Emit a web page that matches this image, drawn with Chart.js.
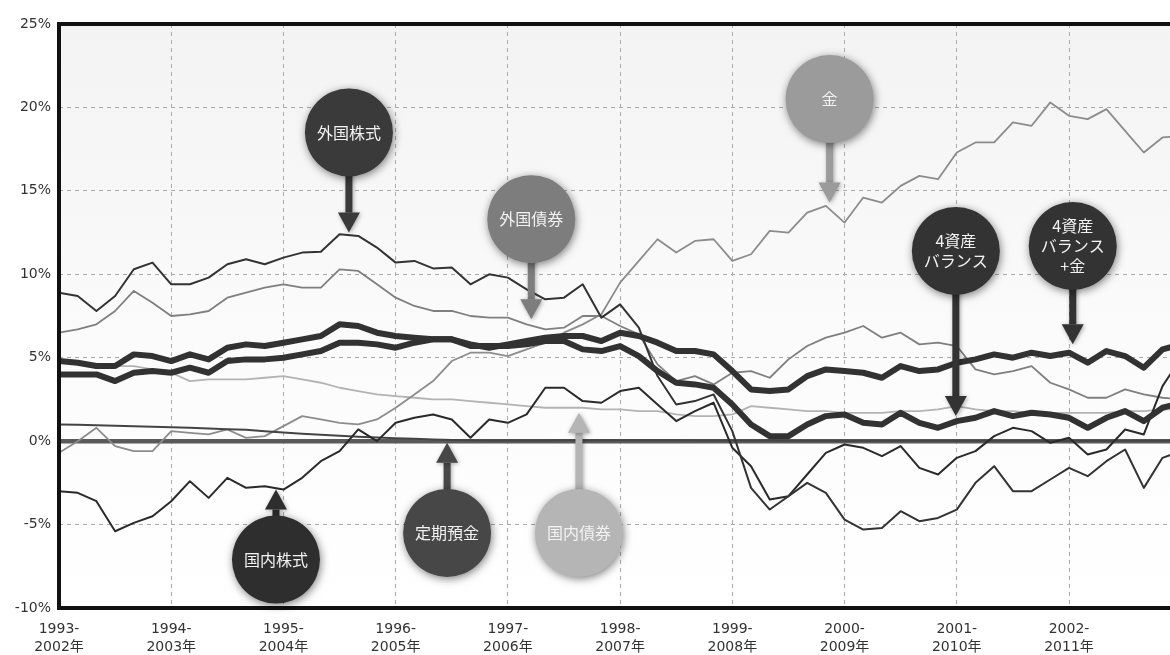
<!DOCTYPE html>
<html>
<head>
<meta charset="utf-8">
<script src="https://cdn.jsdelivr.net/npm/chart.js@4.4.1/dist/chart.umd.min.js"></script>
<style>
html,body{margin:0;padding:0;background:#fff;}
#wrap{width:1170px;height:655px;position:relative;overflow:hidden;}
</style>
</head>
<body>
<div id="wrap"><canvas id="c" width="1170" height="655"></canvas></div>
<script>
// months elapsed since the first window (1993-2002), one point every 2 months
const months = [0,2,4,6,8,10,12,14,16,18,20,22,24,26,28,30,32,34,36,38,40,42,44,46,48,50,52,54,56,58,60,62,64,66,68,70,72,74,76,78,80,82,84,86,88,90,92,94,96,98,100,102,104,106,108,110,112,114,116,118,120];

const tickLabels = [
  ["1993-","2002年"],["1994-","2003年"],["1995-","2004年"],["1996-","2005年"],["1997-","2006年"],
  ["1998-","2007年"],["1999-","2008年"],["2000-","2009年"],["2001-","2010年"],["2002-","2011年"]
];

const yMin = -10, yMax = 25, yStep = 5;

// 10-year annualized returns (%)
const foreignStock = [8.9,8.7,7.8,8.7,10.3,10.7,9.4,9.4,9.8,10.6,
  10.9,10.6,11.0,11.3,11.35,12.4,12.3,11.6,10.7,10.8,
  10.35,10.4,9.4,10.0,9.8,9.1,8.5,8.6,9.4,7.4,
  8.2,6.8,3.9,2.2,2.4,2.8,0.6,-2.8,-4.1,-3.3,
  -2.5,-3.1,-4.7,-5.3,-5.2,-4.2,-4.8,-4.6,-4.1,-2.5,
  -1.5,-3.0,-3.0,-2.3,-1.6,-2.1,-1.2,-0.5,-2.8,-1.0,
  -0.6];

const domesticStock = [-3.0,-3.1,-3.6,-5.4,-4.9,-4.5,-3.6,-2.4,-3.4,-2.2,
  -2.8,-2.7,-2.9,-2.2,-1.2,-0.6,0.7,0.0,1.1,1.4,
  1.6,1.3,0.2,1.3,1.1,1.6,3.2,3.2,2.4,2.3,
  3.0,3.2,2.2,1.2,1.8,2.3,-0.4,-1.5,-3.5,-3.3,
  -2.0,-0.7,-0.2,-0.4,-0.9,-0.3,-1.6,-2.0,-1.0,-0.6,
  0.3,0.8,0.6,-0.1,0.2,-0.8,-0.5,0.7,0.4,3.3,
  5.0];

const foreignBond = [6.5,6.7,7.0,7.8,9.0,8.3,7.5,7.6,7.8,8.6,
  8.9,9.2,9.4,9.2,9.2,10.3,10.2,9.4,8.6,8.1,
  7.8,7.8,7.5,7.4,7.4,7.0,6.7,6.8,7.5,7.5,
  6.9,6.4,4.6,3.6,3.9,3.4,4.1,4.2,3.8,4.9,
  5.7,6.2,6.5,6.9,6.2,6.5,5.8,5.9,5.7,4.3,
  4.0,4.2,4.5,3.5,3.1,2.6,2.6,3.1,2.8,2.6,
  2.5];

const domesticBond = [4.8,4.7,4.6,4.5,4.5,4.3,4.1,3.6,3.7,3.7,
  3.7,3.8,3.9,3.7,3.5,3.2,3.0,2.8,2.7,2.6,
  2.5,2.5,2.4,2.3,2.2,2.1,2.0,2.0,2.0,1.9,
  1.9,1.8,1.8,1.6,1.5,1.5,1.6,2.1,2.0,1.9,
  1.8,1.8,1.7,1.7,1.7,1.8,1.8,1.9,2.1,1.9,
  1.8,1.8,1.7,1.7,1.7,1.7,1.7,1.8,1.8,1.9,
  1.9];

const gold = [-0.7,0.0,0.8,-0.3,-0.6,-0.6,0.6,0.5,0.4,0.7,
  0.2,0.3,0.9,1.5,1.3,1.1,1.0,1.3,2.0,2.8,
  3.6,4.8,5.3,5.3,5.1,5.5,5.9,6.5,7.0,7.6,
  9.5,10.8,12.1,11.3,12.0,12.1,10.8,11.2,12.6,12.5,
  13.7,14.1,13.1,14.6,14.3,15.3,15.9,15.7,17.3,17.9,
  17.9,19.1,18.9,20.3,19.5,19.3,19.9,18.6,17.3,18.2,
  18.3];

const deposit = [1.0,0.98,0.95,0.92,0.9,0.87,0.84,0.8,0.76,0.72,
  0.68,0.6,0.52,0.45,0.38,0.32,0.27,0.22,0.18,0.14,
  0.1,0.07,0.05,0.04,0.04,0.04,0.04,0.05,0.05,0.05,
  0.05,0.05,0.05,0.05,0.04,0.04,0.04,0.04,0.04,0.03,
  0.03,0.03,0.03,0.03,0.03,0.03,0.03,0.03,0.03,0.03,
  0.03,0.03,0.03,0.03,0.03,0.03,0.03,0.03,0.03,0.03,
  0.03];

const balance4 = [4.8,4.7,4.5,4.5,5.2,5.1,4.8,5.2,4.9,5.6,
  5.8,5.7,5.9,6.1,6.3,7.0,6.9,6.5,6.3,6.2,
  6.1,6.1,5.7,5.7,5.7,5.8,6.0,6.0,5.5,5.4,
  5.7,5.1,4.2,3.5,3.4,3.2,2.2,1.0,0.3,0.3,
  1.0,1.5,1.6,1.1,1.0,1.7,1.1,0.8,1.2,1.4,
  1.8,1.5,1.7,1.6,1.4,0.8,1.4,1.8,1.2,2.0,
  2.3];

const balance4Gold = [4.0,4.0,4.0,3.6,4.1,4.2,4.1,4.4,4.1,4.8,
  4.9,4.9,5.0,5.2,5.4,5.9,5.9,5.8,5.6,5.9,
  6.1,6.1,5.8,5.6,5.8,6.0,6.2,6.3,6.3,6.0,
  6.5,6.3,5.9,5.4,5.4,5.2,4.2,3.1,3.0,3.1,
  3.9,4.3,4.2,4.1,3.8,4.5,4.2,4.3,4.7,4.9,
  5.2,5.0,5.3,5.1,5.3,4.7,5.4,5.1,4.4,5.5,
  5.8];

// callout bubbles (placed in data coordinates: x = months, y = %)
const callouts = [
  {text:["外国株式"], x:31.0, y:18.5, tipY:12.5, color:"#3a3a3a"},
  {text:["外国債券"], x:50.5, y:13.3, tipY:7.3,  color:"#7d7d7d"},
  {text:["金"],       x:82.4, y:20.5, tipY:14.3, color:"#9b9b9b"},
  {text:["4資産","バランス"], x:95.9, y:11.4, tipY:1.5, color:"#333333"},
  {text:["4資産","バランス","+金"], x:108.4, y:11.7, tipY:5.8, color:"#333333"},
  {text:["国内株式"], x:23.2, y:-7.1, tipY:-2.9, color:"#2e2e2e"},
  {text:["定期預金"], x:41.5, y:-5.5, tipY:-0.1, color:"#474747"},
  {text:["国内債券"], x:55.6, y:-5.5, tipY:1.7,  color:"#b5b5b5"}
];

function pts(arr){ return months.map((m,i)=>({x:m, y:arr[i]})); }

const decor = {
  id:'decor',
  beforeDraw(chart){
    const {ctx, chartArea:a} = chart;
    const g = ctx.createLinearGradient(0, a.top, 0, a.bottom);
    g.addColorStop(0, '#f3f3f3');
    g.addColorStop(0.55, '#fbfbfb');
    g.addColorStop(1, '#ffffff');
    ctx.save();
    ctx.fillStyle = g;
    ctx.fillRect(a.left, a.top, a.right - a.left, a.bottom - a.top);
    ctx.restore();
  },
  beforeDatasetsDraw(chart){
    const {ctx, chartArea:a, scales:{y}} = chart;
    const y0 = y.getPixelForValue(0);
    ctx.save();
    ctx.strokeStyle = '#5a5a5a';
    ctx.lineWidth = 4.5;
    ctx.beginPath(); ctx.moveTo(a.left, y0); ctx.lineTo(a.right, y0); ctx.stroke();
    ctx.restore();
  },
  afterDatasetsDraw(chart){
    const {ctx, chartArea:a, scales:{x, y}} = chart;
    ctx.save();
    ctx.strokeStyle = '#111';
    ctx.lineWidth = 4;
    ctx.beginPath();
    ctx.moveTo(a.right + 5, a.top);
    ctx.lineTo(a.left, a.top);
    ctx.lineTo(a.left, a.bottom);
    ctx.lineTo(a.right + 5, a.bottom);
    ctx.stroke();
    ctx.restore();
    callouts.forEach(c => {
      const cx = x.getPixelForValue(c.x), cy = y.getPixelForValue(c.y), ty = y.getPixelForValue(c.tipY);
      const r = 44, headH = 20, headW = 11, shaftW = 3.5;
      const dir = ty > cy ? 1 : -1;
      const baseY = ty - dir * headH;
      ctx.save();
      ctx.fillStyle = c.color;
      ctx.shadowColor = 'rgba(0,0,0,0.35)';
      ctx.shadowBlur = 4; ctx.shadowOffsetX = 1; ctx.shadowOffsetY = 1;
      ctx.beginPath();
      ctx.rect(cx - shaftW, Math.min(cy, baseY), shaftW * 2, Math.abs(baseY - cy));
      ctx.fill();
      ctx.beginPath();
      ctx.moveTo(cx - headW, baseY); ctx.lineTo(cx + headW, baseY); ctx.lineTo(cx, ty); ctx.closePath();
      ctx.fill();
      ctx.shadowColor = 'rgba(0,0,0,0.5)';
      ctx.shadowBlur = 9; ctx.shadowOffsetX = 1; ctx.shadowOffsetY = 2;
      ctx.beginPath(); ctx.arc(cx, cy, r, 0, Math.PI * 2); ctx.fill();
      ctx.restore();
      ctx.save();
      ctx.fillStyle = '#f2f2f2';
      ctx.font = '16px "Noto Sans CJK JP", sans-serif';
      ctx.textAlign = 'center';
      ctx.textBaseline = 'middle';
      const lh = 20, n = c.text.length;
      c.text.forEach((t, i) => ctx.fillText(t, cx, cy + (i - (n - 1) / 2) * lh));
      ctx.restore();
    });
  }
};

const ds = (label, arr, color, width) => ({
  label, data: pts(arr), borderColor: color, borderWidth: width,
  pointRadius: 0, tension: 0, fill: false, borderJoinStyle: 'round', borderCapStyle: 'round'
});

new Chart(document.getElementById('c'), {
  type: 'line',
  data: {
    datasets: [
      ds('4資産バランス+金', balance4Gold, '#323232', 6),
      ds('4資産バランス', balance4, '#323232', 6),
      ds('外国株式', foreignStock, '#333333', 2),
      ds('国内株式', domesticStock, '#2a2a2a', 2),
      ds('定期預金', deposit, '#444444', 2),
      ds('外国債券', foreignBond, '#7f7f7f', 1.8),
      ds('金', gold, '#8c8c8c', 1.8),
      ds('国内債券', domesticBond, '#b3b3b3', 1.8)
    ]
  },
  options: {
    responsive: false,
    animation: false,
    devicePixelRatio: 1,
    layout: {padding: {top: 24, right: 0, bottom: 0, left: 0}},
    plugins: {legend: {display: false}, tooltip: {enabled: false}},
    scales: {
      x: {
        type: 'linear', min: 0, max: 118.8,
        afterFit: s => { s.height = 47; },
        afterBuildTicks: s => { s.ticks = s.ticks.filter(t => t.value % 12 === 0 && t.value <= 108); },
        ticks: {
          stepSize: 12, autoSkip: false, maxRotation: 0, padding: 13,
          color: '#333', font: {family: '"DejaVu Sans", "Noto Sans CJK JP"', size: 14, lineHeight: 1.25},
          callback: v => tickLabels[Math.round(v / 12)]
        },
        grid: {color: '#aaaaaa', lineWidth: 1, drawTicks: false},
        border: {display: false, dash: [4, 4]}
      },
      y: {
        min: yMin, max: yMax,
        afterFit: s => { s.width = 59; },
        ticks: {
          stepSize: yStep, padding: 8, color: '#333',
          font: {family: '"DejaVu Sans"', size: 14},
          callback: v => v + '%'
        },
        grid: {color: '#aaaaaa', lineWidth: c => (c.tick && c.tick.value === 0) ? 0 : 1, drawTicks: false},
        border: {display: false, dash: [4, 4]}
      }
    }
  },
  plugins: [decor]
});
</script>
</body>
</html>
